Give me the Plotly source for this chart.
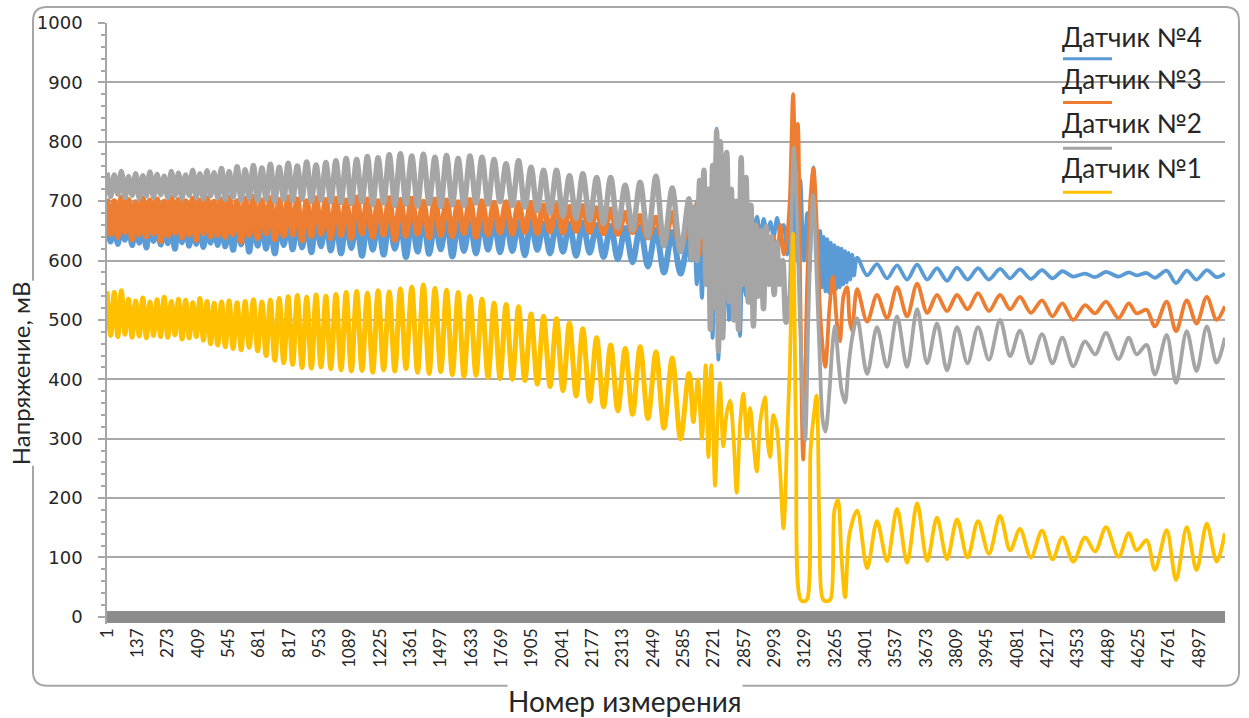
import plotly.graph_objects as go

# ---------------- DATA ----------------
SERIES_NAMES = ["Датчик №4", "Датчик №3", "Датчик №2", "Датчик №1"]
X_TICKS = [1, 137, 273, 409, 545, 681, 817, 953, 1089, 1225, 1361, 1497, 1633, 1769,
           1905, 2041, 2177, 2313, 2449, 2585, 2721, 2857, 2993, 3129, 3265, 3401,
           3537, 3673, 3809, 3945, 4081, 4217, 4353, 4489, 4625, 4761, 4897]
N_POINTS = 5013

# measurement numbers of the extremes in the early, densely oscillating part
X_DENSE = [1, 17, 33, 49, 65, 81, 97, 113, 129, 145, 161, 177, 193, 209, 225, 241, 257, 273, 289, 305, 321, 337, 353, 369, 385, 401, 417, 433, 449, 465, 481, 497,
           514, 531, 548, 566, 584, 602, 620, 638, 657, 676, 695, 714, 733, 753, 773, 793, 813, 833, 854, 875, 896, 917, 938, 960, 982, 1004,
           1027, 1050, 1073, 1096, 1120, 1144, 1168, 1192, 1216, 1241, 1266, 1291, 1316, 1341, 1367, 1393, 1419, 1445, 1471, 1497,
           1523, 1549, 1575, 1601, 1628, 1655, 1682, 1709, 1736, 1763,
           1790, 1818, 1846, 1874, 1902, 1930, 1958, 1987, 2016, 2045, 2074,
           2104, 2134, 2165, 2196, 2227, 2259, 2291, 2324, 2357,
           2391, 2426, 2462, 2498, 2535, 2572, 2610]

S4_DENSE = [668, 632, 672, 628, 665, 635, 670, 626, 674, 630, 666, 622, 671, 633, 669, 627, 673, 629, 667, 620, 670, 631, 675, 625, 668, 628, 672, 623, 666, 630, 670, 626,
            671, 624, 667, 618, 673, 627, 668, 615, 670, 625, 674, 620, 666, 612, 672, 626, 669, 619, 671, 622, 667, 614, 673, 624, 670, 617,
            668, 612, 672, 621, 666, 608, 670, 618, 667, 610, 671, 620, 665, 606, 669, 615, 672, 611, 666, 619,
            670, 607, 668, 616, 665, 612, 669, 618, 667, 614,
            668, 616, 665, 609, 667, 618, 663, 612, 666, 615, 662,
            608, 664, 613, 660, 606, 658, 602, 655, 597,
            657, 590, 652, 580, 648, 578, 640]
S3_DENSE = [704, 645, 700, 640, 706, 648, 702, 636, 698, 644, 705, 641, 701, 646, 703, 633, 699, 642, 706, 647, 702, 639, 700, 644, 704, 635, 701, 646, 705, 641, 699, 643,
            703, 640, 706, 645, 700, 632, 704, 643, 707, 638, 701, 646, 705, 636, 702, 642, 706, 644, 703, 634, 700, 641, 705, 645, 702, 638,
            704, 643, 701, 638, 706, 646, 703, 640, 700, 644, 705, 635, 702, 642, 704, 645, 699, 639, 703, 643,
            701, 641, 698, 646, 702, 640, 700, 644, 697, 647,
            698, 645, 695, 648, 697, 646, 693, 649, 694, 647, 690,
            650, 692, 648, 688, 646, 686, 645, 680, 648,
            675, 639, 672, 633, 680, 621, 670]
S2_DENSE = [748, 708, 744, 712, 750, 706, 741, 710, 746, 705, 743, 709, 749, 707, 745, 711, 742, 706, 750, 709, 747, 705, 744, 710, 752, 707, 746, 704, 751, 709, 748, 706,
            755, 703, 750, 707, 758, 702, 753, 705, 760, 701, 756, 704, 762, 700, 757, 703, 764, 701, 759, 705, 766, 700, 761, 702, 765, 699,
            768, 698, 772, 696, 770, 699, 775, 694, 773, 697, 778, 693, 780, 695, 776, 692, 779, 696, 774, 691,
            777, 694, 772, 693, 776, 697, 774, 695, 770, 699,
            763, 693, 768, 690, 757, 684, 752, 680, 752, 675, 743,
            671, 746, 668, 740, 662, 740, 655, 727, 651,
            732, 640, 742, 625, 722, 615, 704]
S1_DENSE = [548, 474, 546, 472, 549, 476, 535, 471, 532, 473, 537, 470, 530, 474, 534, 472, 538, 471, 531, 475, 535, 468, 533, 470, 529, 472, 536, 466, 531, 460, 528, 458,
            530, 455, 532, 452, 529, 450, 531, 454, 534, 448, 530, 440, 533, 432, 536, 428, 539, 425, 541, 420, 538, 419, 542, 421, 540, 418,
            543, 416, 546, 414, 548, 415, 545, 412, 549, 416, 547, 414, 552, 418, 555, 412, 559, 410, 553, 413,
            550, 408, 546, 405, 540, 407, 535, 403, 528, 401,
            526, 400, 522, 398, 510, 392, 506, 388, 502, 381, 495,
            372, 485, 363, 470, 354, 458, 347, 452, 341,
            455, 334, 446, 318, 436, 300, 410]

# irregular middle part (each sensor separately)
S4_MID_X = [2620, 2632, 2645, 2657, 2668, 2680, 2692, 2704, 2716, 2728, 2734, 2742, 2752, 2764, 2776, 2790, 2804, 2818, 2830, 2839,
            2852, 2866, 2884, 2900, 2915, 2930, 2945, 2960, 2975, 2990, 3005, 3020, 3035, 3050, 3063, 3077, 3092, 3109, 3125, 3140,
            3150, 3168, 3185, 3198, 3206, 3214, 3222, 3230, 3238, 3246, 3254, 3262, 3270, 3278, 3286, 3294, 3302, 3310, 3318, 3326,
            3334, 3342, 3350]
S4_MID_Y = [600, 650, 560, 660, 537, 640, 560, 700, 470, 760, 822, 433, 600, 480, 620, 500, 640, 520, 600, 473,
            640, 540, 555, 650, 674, 640, 670, 645, 665, 640, 672, 645, 660, 610, 640, 720, 600, 736, 600, 680,
            580, 757, 620, 650, 555, 640, 548, 636, 546, 630, 548, 626, 552, 622, 555, 620, 560, 616, 563, 613,
            568, 610, 575]
S3_MID_X = [2630, 2645, 2660, 2675, 2690, 2705, 2720, 2735, 2750, 2765, 2780, 2800, 2820, 2840, 2860, 2880, 2900, 2915, 2930, 2950,
            2970, 2990, 3005, 3020, 3035, 3050, 3062, 3077, 3088, 3098, 3110, 3122, 3140, 3155, 3168, 3185, 3200, 3221, 3240, 3256,
            3272, 3287, 3303, 3319, 3330, 3341]
S3_MID_Y = [650, 700, 610, 720, 600, 690, 580, 700, 560, 680, 590, 670, 600, 690, 610, 680, 620, 660, 600, 650,
            610, 640, 600, 660, 610, 640, 700, 880, 760, 830, 520, 265, 560, 706, 755, 640, 500, 421, 520, 573,
            500, 464, 540, 555, 500, 482]
S2_MID_X = [2622, 2634, 2646, 2658, 2668, 2677, 2687, 2697, 2706, 2716, 2726, 2734, 2742, 2751, 2761, 2770, 2779, 2790, 2800, 2812,
            2822, 2832, 2844, 2854, 2866, 2876, 2888, 2899, 2910, 2920, 2932, 2944, 2956, 2968, 2980, 2992, 3004, 3016, 3030, 3045,
            3060, 3072, 3080, 3090, 3100, 3115, 3131, 3145, 3158, 3167, 3180, 3195, 3210, 3222, 3240, 3252, 3265, 3280, 3295, 3310,
            3325, 3342]
S2_MID_Y = [603, 690, 600, 735, 640, 752, 560, 720, 484, 760, 520, 818, 448, 800, 470, 740, 782, 531, 720, 500,
            700, 484, 773, 560, 740, 530, 693, 490, 660, 540, 650, 519, 657, 560, 640, 543, 630, 560, 600, 496,
            540, 700, 790, 720, 600, 420, 298, 500, 660, 710, 600, 450, 330, 312, 380, 450, 490, 430, 380, 361,
            420, 470]
S1_MID_X = [2630, 2650, 2668, 2685, 2697, 2710, 2727, 2738, 2749, 2764, 2778, 2794, 2810, 2824, 2840, 2854, 2870, 2884, 2900, 2914,
            2930, 2951, 2962, 2974, 2988, 3003, 3018, 3034, 3050, 3062, 3077, 3090, 3109, 3125, 3140, 3155, 3170, 3182, 3195, 3210,
            3228, 3245, 3262, 3278, 3294, 3310, 3330]
S1_MID_Y = [328, 400, 300, 424, 269, 424, 221, 330, 394, 287, 340, 364, 300, 209, 330, 376, 300, 352, 290, 245,
            330, 370, 300, 269, 340, 320, 250, 149, 300, 420, 645, 300, 30, 26, 30, 280, 340, 373, 150, 30,
            26, 30, 179, 197, 100, 33, 140]

# calm final part: extremes of the slow oscillation
X_TAIL = [3364, 3409, 3453, 3498, 3543, 3588, 3633, 3678, 3722, 3767, 3812, 3859, 3906, 3955, 4005, 4050, 4094, 4143, 4193, 4240,
          4284, 4333, 4386, 4431, 4480, 4536, 4582, 4617, 4662, 4699, 4752, 4794, 4842, 4886, 4932, 4976, 5013]
S4_TAIL = [605, 575, 594, 570, 592, 568, 593, 568, 587, 566, 588, 568, 587, 568, 586, 570, 585, 569, 584, 570,
           582, 573, 578, 572, 581, 573, 580, 575, 579, 571, 583, 562, 583, 568, 584, 572, 578]
S3_TAIL = [552, 497, 542, 503, 555, 506, 561, 512, 542, 515, 542, 518, 545, 515, 542, 518, 539, 512, 533, 506,
           528, 500, 525, 511, 531, 503, 528, 511, 517, 489, 531, 481, 533, 494, 539, 500, 523]
S2_TAIL = [503, 409, 488, 421, 506, 421, 518, 427, 494, 415, 488, 427, 488, 433, 500, 439, 482, 427, 476, 427,
           470, 422, 464, 442, 478, 434, 470, 442, 458, 408, 475, 394, 481, 414, 489, 428, 470]
S1_TAIL = [179, 82, 161, 94, 182, 91, 191, 94, 167, 97, 164, 100, 161, 106, 170, 112, 148, 100, 145, 97,
           134, 93, 134, 110, 151, 101, 141, 112, 129, 79, 146, 62, 151, 79, 157, 93, 141]

COLORS = ["#5B9BD5", "#ED7D31", "#A5A5A5", "#FFC000"]
# line width of the dense early part (the strokes there merge into a band)
DENSE_WIDTH = [6.0, 6.0, 5.5, 5.0]
# how many middle points are drawn with the dense style (gray blob is also a band)
MID_IN_DENSE = [1, 1, 41, 1]

# ---------------- FIGURE ----------------
W, H = 1249, 718
ML, MR, MT, MB = 107, 24, 20, 94
PW, PH = W - ML - MR, H - MT - MB


def px2paper(x, y):
    return (x - ML) / PW, (H - MB - y) / PH


parts = [
    (S4_DENSE, S4_MID_X, S4_MID_Y, S4_TAIL),
    (S3_DENSE, S3_MID_X, S3_MID_Y, S3_TAIL),
    (S2_DENSE, S2_MID_X, S2_MID_Y, S2_TAIL),
    (S1_DENSE, S1_MID_X, S1_MID_Y, S1_TAIL),
]

fig = go.Figure()
for name, color, dw, nm, (yd, xm, ym, yt) in zip(SERIES_NAMES, COLORS, DENSE_WIDTH, MID_IN_DENSE, parts):
    assert len(yd) == len(X_DENSE) and len(xm) == len(ym) and len(yt) == len(X_TAIL), name
    fig.add_trace(go.Scatter(
        x=X_DENSE + xm + X_TAIL, y=yd + ym + yt, mode="lines", name=name,
        line=dict(color=color, width=3.8, shape="spline", smoothing=0.9),
        showlegend=False, hoverinfo="skip"))
    fig.add_trace(go.Scatter(
        x=X_DENSE + xm[:nm], y=yd + ym[:nm], mode="lines", name=name,
        line=dict(color=color, width=dw, shape="spline", smoothing=0.9),
        showlegend=False, hoverinfo="skip"))

shapes = []
annotations = []

# outer rounded frame
x0, y0, x1, y1, r = 33, 4, 1239, 686, 14


def P(x, y):
    a, b = px2paper(x, y)
    return f"{a:.5f},{b:.5f}"


path = (f"M {P(x0 + r, y0)} L {P(x1 - r, y0)} Q {P(x1, y0)} {P(x1, y0 + r)} "
        f"L {P(x1, y1 - r)} Q {P(x1, y1)} {P(x1 - r, y1)} L {P(x0 + r, y1)} "
        f"Q {P(x0, y1)} {P(x0, y1 - r)} L {P(x0, y0 + r)} Q {P(x0, y0)} {P(x0 + r, y0)} Z")
shapes.append(dict(type="path", path=path, xref="paper", yref="paper",
                   line=dict(color="#A6A6A6", width=2), layer="below"))

# legend: text with a short line under it
leg_text_y = [34, 76, 120, 166]
leg_line_y = [56, 100, 146, 190]
for name, color, ty, ly in zip(SERIES_NAMES, COLORS, leg_text_y, leg_line_y):
    ax, ay = px2paper(1060, ty)
    annotations.append(dict(text=name, x=ax, y=ay, xref="paper", yref="paper",
                            xanchor="left", yanchor="middle", showarrow=False,
                            font=dict(family="Lato", size=26, color="#262626")))
    lx0, lyy = px2paper(1063, ly)
    lx1, _ = px2paper(1112, ly)
    shapes.append(dict(type="line", xref="paper", yref="paper", x0=lx0, x1=lx1, y0=lyy, y1=lyy,
                       line=dict(color=color, width=3)))

# axis titles
tx, ty = px2paper(20, 372)
annotations.append(dict(text="Напряжение, мВ", x=tx, y=ty, xref="paper", yref="paper",
                        xanchor="center", yanchor="middle",
                        textangle=-90, showarrow=False, bgcolor="white", borderpad=0,
                        font=dict(family="Lato", size=24, color="#262626")))
tx, ty = px2paper(625, 701)
annotations.append(dict(text="Номер измерения", x=tx, y=ty, xref="paper", yref="paper",
                        xanchor="center", yanchor="middle",
                        showarrow=False, bgcolor="white", borderpad=0,
                        font=dict(family="Lato", size=28, color="#262626")))

fig.update_layout(
    width=W, height=H, margin=dict(l=ML, r=MR, t=MT, b=MB),
    paper_bgcolor="white", plot_bgcolor="white", showlegend=False,
    shapes=shapes, annotations=annotations,
    xaxis=dict(range=[0.5, N_POINTS + 0.5], tickmode="array", tickvals=X_TICKS,
               ticktext=[str(v) for v in X_TICKS], tickangle=-90,
               showgrid=False, zeroline=False, showline=False, ticks="",
               tickfont=dict(family="Lato", size=17, color="#262626")),
    yaxis=dict(range=[-12, 1000], tickmode="linear", tick0=0, dtick=100,
               showgrid=True, gridcolor="#A9A9A9", gridwidth=2,
               zeroline=True, zerolinecolor="#8C8C8C", zerolinewidth=12,
               showline=True, linecolor="#A6A6A6", linewidth=1.5,
               ticks="outside", ticklen=7, tickcolor="#A6A6A6", tickwidth=1.5,
               ticklabelstandoff=12,
               minor=dict(dtick=20, ticks="outside", ticklen=4, tickcolor="#A6A6A6", showgrid=False),
               tickfont=dict(family="DejaVu Sans", size=18, color="#262626")),
)

fig.write_html("out.html", config={"displayModeBar": False},
               post_script="document.body.style.margin='0';document.body.style.overflow='hidden';")
